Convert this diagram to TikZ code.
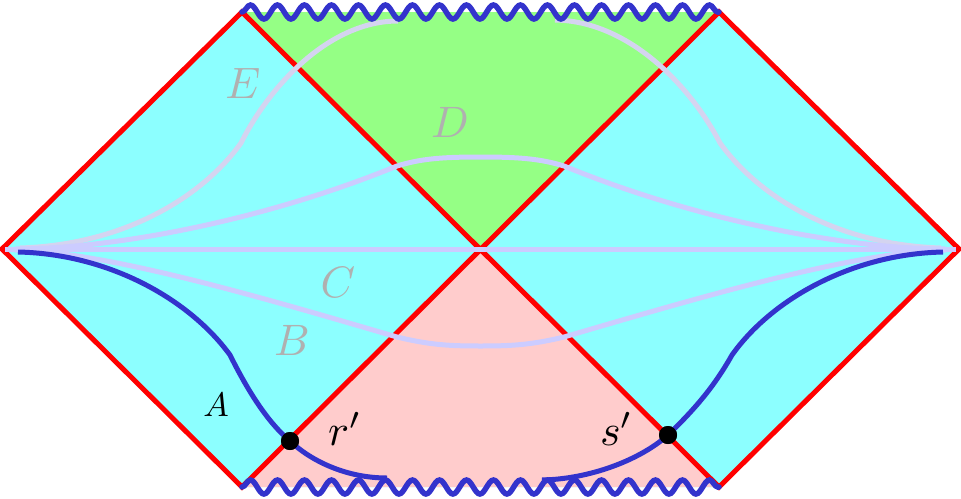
\documentclass[tikz,border=0pt]{standalone}
\usepackage{graphicx}
\usetikzlibrary{decorations.pathmorphing}
\definecolor{cyanfill}{RGB}{140,255,255}
\definecolor{greenfill}{RGB}{149,255,133}
\definecolor{pinkfill}{RGB}{255,204,204}
\definecolor{hred}{RGB}{255,0,0}
\definecolor{dblue}{RGB}{51,51,204}
\definecolor{lav}{RGB}{204,204,255}
\definecolor{palelav}{RGB}{212,212,240}
\definecolor{lblgray}{RGB}{176,176,176}
\newcommand{\biglbl}[1]{\scalebox{4.4}{$#1$}}
\newcommand{\midlbl}[1]{\scalebox{3.4}{$#1$}}
\begin{document}
\begin{tikzpicture}[x=1pt,y=-1pt,
  horizon/.style={draw=hred, line width=5pt, line join=miter},
  slice/.style={draw=lav, line width=5pt},
  paleslice/.style={draw=palelav, line width=5pt},
  world/.style={draw=dblue, line width=5pt},
  sing/.style={draw=dblue, line width=5.5pt, line cap=round, decorate,
    decoration={snake, segment length=27pt, amplitude=7pt}},
  faint/.style={text=lblgray, inner sep=0pt},
  darklbl/.style={text=black, inner sep=0pt},
  primelbl/.style={text=black, inner sep=0pt, anchor=base west},
  pointdot/.style={circle, fill=black, inner sep=0pt, minimum size=18pt}]
\useasboundingbox (0,0) rectangle (961,498);
% vertices
\coordinate (L) at (2,249);
\coordinate (TL) at (242,12);
\coordinate (TR) at (719,12);
\coordinate (R) at (959,249);
\coordinate (BR) at (719,487);
\coordinate (BL) at (242,487);
\coordinate (C) at (480.5,249);
% fills
\fill[cyanfill] (L) -- (TL) -- (TR) -- (R) -- (BR) -- (BL) -- cycle;
\fill[greenfill] (TL) -- (TR) -- (C) -- cycle;
\fill[pinkfill] (BL) -- (BR) -- (C) -- cycle;
% horizons
\path[horizon] (TL) -- (L) -- (BL) -- (TR) -- (R) -- (BR) -- cycle;
% slices
\coordinate (e1) at (20,248);
\coordinate (e2) at (241,143);
\coordinate (e3) at (398,21);
\coordinate (e4) at (555,20);
\coordinate (e5) at (720,143);
\coordinate (e6) at (941,248);
\path[paleslice] (e1) .. controls (120,245) and (200,200) .. (e2)
  .. controls (270,85) and (330,21) .. (e3);
\path[paleslice] (e4) .. controls (628,21) and (690,85) .. (e5)
  .. controls (761,200) and (841,245) .. (e6);
\coordinate (d1) at (15,249);
\coordinate (d2) at (397,166);
\coordinate (d3) at (480.5,157);
\coordinate (d4) at (564,166);
\coordinate (d5) at (946,249);
\path[slice] (d1) .. controls (110,249) and (260,222) .. (d2)
  .. controls (420,159) and (440,157) .. (d3)
  .. controls (521,157) and (541,159) .. (d4)
  .. controls (701,222) and (851,249) .. (d5);
\coordinate (h1) at (5,249);
\coordinate (h2) at (956,249);
\path[slice] (h1) -- (h2);
\coordinate (b1) at (15,250);
\coordinate (b2) at (397,337);
\coordinate (b3) at (480.5,346);
\coordinate (b4) at (564,337);
\coordinate (b5) at (946,250);
\path[slice] (b1) .. controls (110,252) and (270,300) .. (b2)
  .. controls (430,345) and (450,346) .. (b3)
  .. controls (511,346) and (531,345) .. (b4)
  .. controls (691,300) and (851,252) .. (b5);
% singularities
\path[sing] (TL) -- (TR);
\path[sing] (BL) -- (BR);
% world line A
\node[pointdot] (r) at (290,441) {};
\node[pointdot] (s) at (668,435) {};
\coordinate (a1) at (18,252);
\coordinate (a2) at (230,355);
\coordinate (a3) at (387,478);
\path[world] (a1) .. controls (110,254) and (190,300) .. (a2)
  .. controls (245,385) and (265,420) .. (r.center)
  .. controls (310,460) and (345,478) .. (a3);
\coordinate (a4) at (542,480);
\coordinate (a5) at (732,355);
\coordinate (a6) at (943,252);
\path[world] (a4) .. controls (590,479) and (640,460) .. (s.center)
  .. controls (697,407) and (715,385) .. (a5)
  .. controls (771,300) and (851,254) .. (a6);
\node[pointdot] at (r) {};
\node[pointdot] at (s) {};
% labels
\node[faint] (lE) at (243,83) {\biglbl{E}};
\node[faint] (lD) at (450,122) {\biglbl{D}};
\node[faint] (lC) at (338,282) {\biglbl{C}};
\node[faint] (lB) at (292,340) {\biglbl{B}};
\node[darklbl] (lA) at (216,405) {\midlbl{A}};
\node[primelbl] (lr) at (328,445) {\biglbl{r'}};
\node[primelbl] (ls) at (600,445) {\biglbl{s'}};
\end{tikzpicture}
\end{document}
